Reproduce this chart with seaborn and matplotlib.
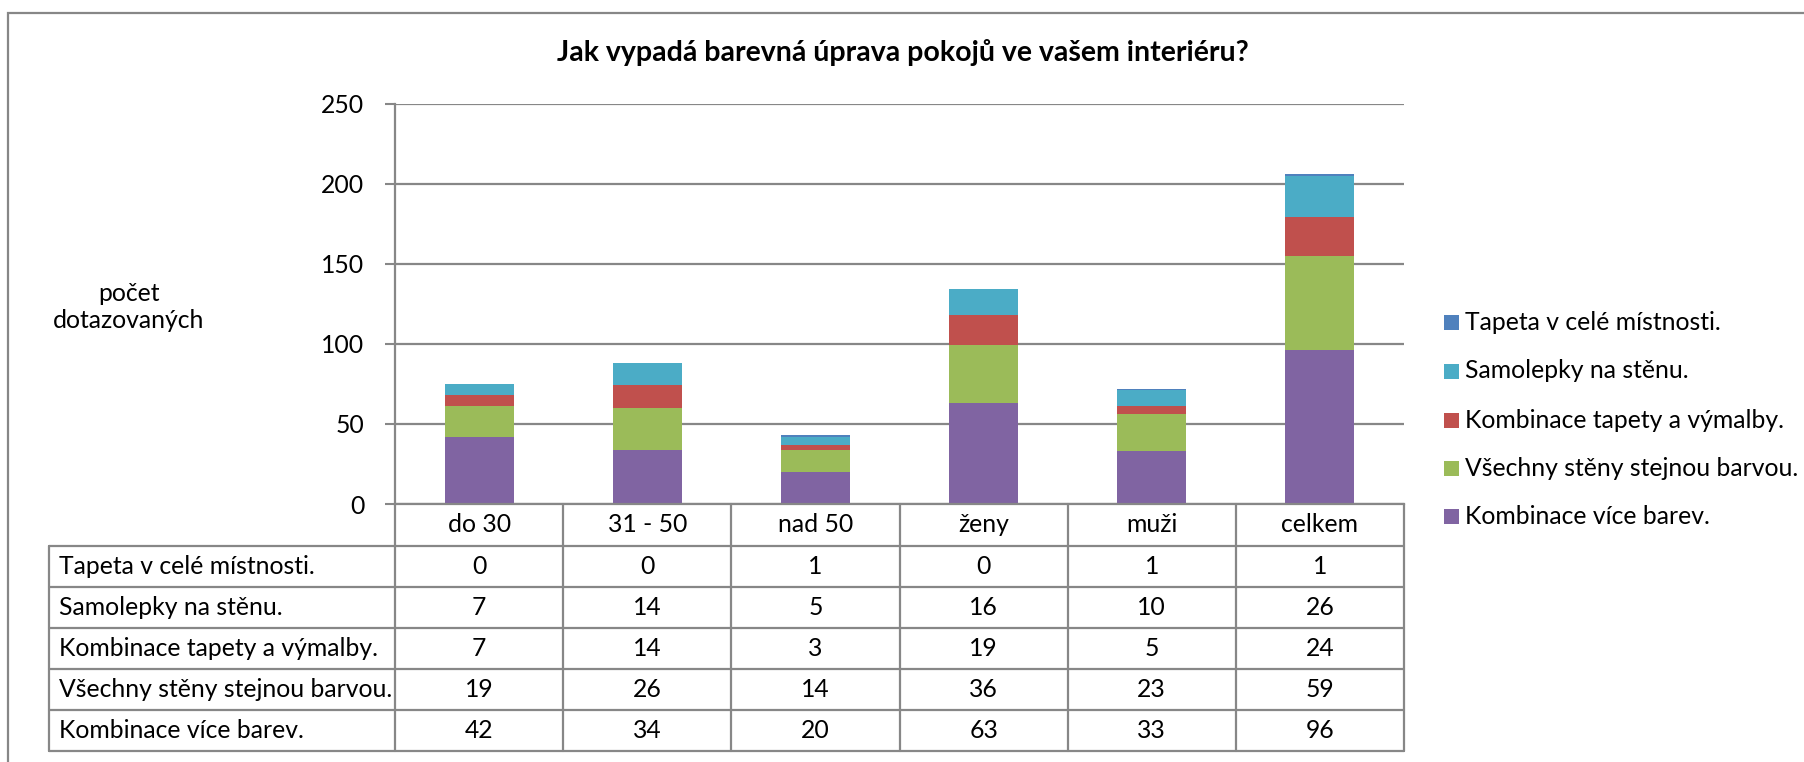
import numpy as np
import matplotlib
matplotlib.use('Agg')
import matplotlib.pyplot as plt
import matplotlib.transforms as mtransforms
from matplotlib.lines import Line2D
from matplotlib.patches import Rectangle
import seaborn as sns

categories = ['do 30', '31 - 50', 'nad 50', 'ženy', 'muži', 'celkem']
tapeta = [0, 0, 1, 0, 1, 1]
samolepky = [7, 14, 5, 16, 10, 26]
kombinace_tapety = [7, 14, 3, 19, 5, 24]
vsechny_steny = [19, 26, 14, 36, 23, 59]
kombinace_barev = [42, 34, 20, 63, 33, 96]

series_names = ['Tapeta v celé místnosti.', 'Samolepky na stěnu.',
                'Kombinace tapety a výmalby.', 'Všechny stěny stejnou barvou.',
                'Kombinace více barev.']
series_values = [tapeta, samolepky, kombinace_tapety, vsechny_steny, kombinace_barev]
colors = ['#4F81BD', '#4BACC6', '#C0504D', '#9BBB59', '#8064A2']

sns.set_theme(style='white')
plt.rcParams['font.family'] = ['Lato', 'DejaVu Sans']

W, H = 1804, 762
fig = plt.figure(figsize=(W / 100, H / 100), dpi=100)
fx = lambda px: px / W
fy = lambda py: 1 - py / H

ax_left, ax_right, ax_top, ax_bottom = 395, 1404, 103.5, 504
ax = fig.add_axes([fx(ax_left), fy(ax_bottom), fx(ax_right - ax_left), (ax_bottom - ax_top) / H])

grid_c = '#878787'
txt_c = '#000000'
fs = 17.8

# stacked bars, bottom to top
bottom = np.zeros(len(categories))
for name, vals, col in reversed(list(zip(series_names, series_values, colors))):
    sns.barplot(x=categories, y=vals, color=col, saturation=1, width=0.41,
                bottom=bottom, linewidth=0, errorbar=None, ax=ax)
    bottom = bottom + np.array(vals)

ax.set_xlim(-0.5, len(categories) - 0.5)
ax.set_ylim(0, 250)
ax.set_yticks(range(0, 251, 50))
ax.yaxis.grid(True, color=grid_c, lw=1.6)
ax.set_axisbelow(True)
ax.set_xticks([])
ax.set_xlabel('')
ax.set_ylabel('')
ax.tick_params(axis='y', left=True, length=7, width=1.5, color=grid_c,
               labelsize=fs, pad=15, labelcolor=txt_c)
for side in ['top', 'right']:
    ax.spines[side].set_visible(False)
for side in ['left', 'bottom']:
    ax.spines[side].set_color(grid_c)
    ax.spines[side].set_linewidth(1.6)

fig.text(fx(129), fy(307), 'počet\ndotazovaných', ha='center', va='center',
         fontsize=fs, linespacing=1.25, color=txt_c)

fig.text(fx(903), fy(52), 'Jak vypadá barevná úprava pokojů ve vašem interiéru?',
         ha='center', va='center', fontsize=20.5, fontweight='bold', color=txt_c)

# data table under the plot
bt = mtransforms.blended_transform_factory(ax.transData, fig.transFigure)
row_edges = [504, 546, 587, 628, 669, 710, 751]
tbl_left = 49
n = len(categories)

def hline(x0, x1, y, tr):
    fig.add_artist(Line2D([x0, x1], [y, y], transform=tr, color=grid_c, lw=1.6))

def vline(x, y0, y1, tr):
    fig.add_artist(Line2D([x, x], [y0, y1], transform=tr, color=grid_c, lw=1.6))

for y in row_edges[1:]:
    hline(fx(tbl_left), fx(ax_right), fy(y), fig.transFigure)
vline(fx(tbl_left), fy(row_edges[1]), fy(row_edges[-1]), fig.transFigure)
for i in range(n + 1):
    vline(i - 0.5, fy(row_edges[0]), fy(row_edges[-1]), bt)

for i, c in enumerate(categories):
    fig.text(i, fy((row_edges[0] + row_edges[1]) / 2), c, transform=bt,
             ha='center', va='center', fontsize=fs, color=txt_c)

for r, (name, vals) in enumerate(zip(series_names, series_values)):
    yc = fy((row_edges[r + 1] + row_edges[r + 2]) / 2)
    fig.text(fx(tbl_left + 10), yc, name, ha='left', va='center', fontsize=fs, color=txt_c)
    for i, v in enumerate(vals):
        fig.text(i, yc, str(v), transform=bt, ha='center', va='center',
                 fontsize=fs, color=txt_c)

# legend
leg_y = [322, 371, 420, 468, 516]
for name, col, y in zip(series_names, colors, leg_y):
    fig.add_artist(Rectangle((fx(1444), fy(y + 7.5)), fx(15), 15 / H,
                             transform=fig.transFigure, color=col, lw=0))
    fig.text(fx(1465), fy(y), name, ha='left', va='center', fontsize=fs, color=txt_c)

# outer chart border
fig.add_artist(Rectangle((fx(8), -0.1), 1.2, fy(13) + 0.1, transform=fig.transFigure,
                         fill=False, edgecolor=grid_c, lw=1.6))

fig.savefig('out.png', dpi=100)
